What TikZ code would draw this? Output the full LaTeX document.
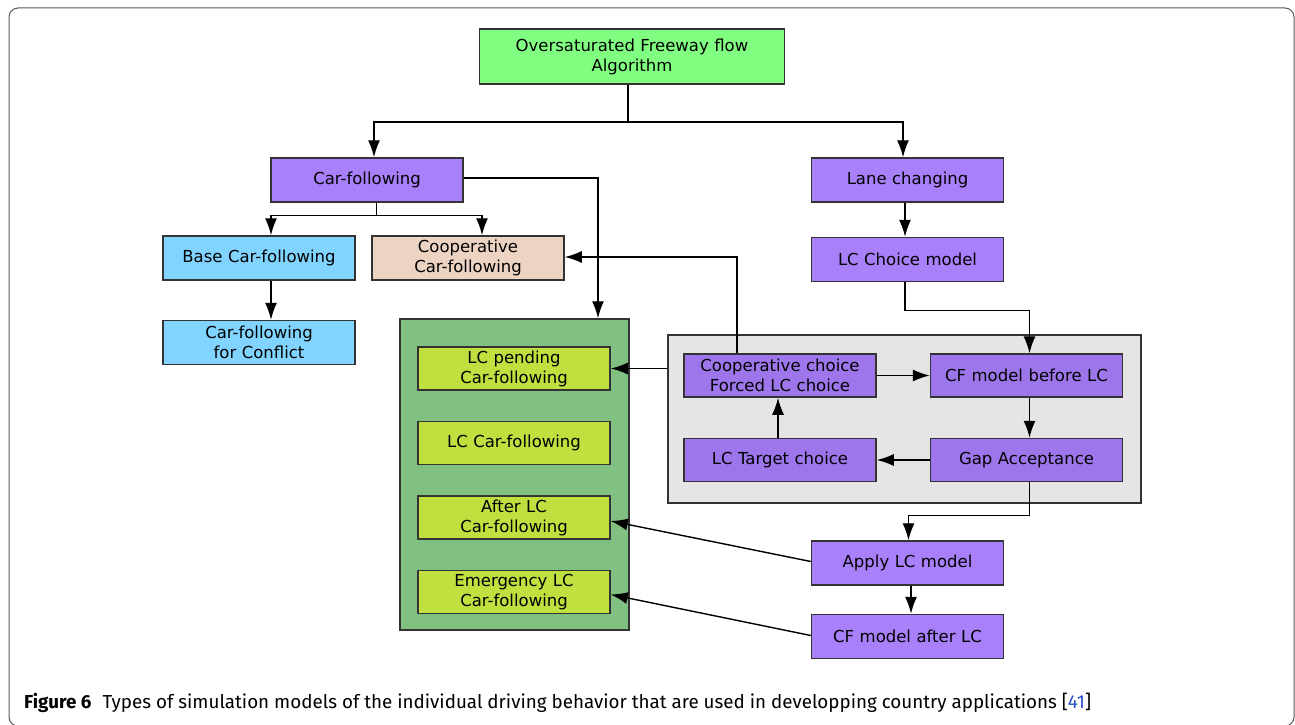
\documentclass[tikz,border=0pt]{standalone}
\usepackage{fontspec}
\setmainfont{DejaVu Sans}
\newfontfamily\capfont{Fira Sans}
\usetikzlibrary{arrows.meta,positioning}
\definecolor{algogreen}{RGB}{128,255,128}
\definecolor{cfpurple}{RGB}{168,128,250}
\definecolor{lcpurple}{RGB}{157,118,236}
\definecolor{baseblue}{RGB}{128,212,255}
\definecolor{coopbeige}{RGB}{236,211,194}
\definecolor{groupgreen}{RGB}{128,192,128}
\definecolor{cflime}{RGB}{192,224,64}
\definecolor{groupgray}{RGB}{229,229,229}
\definecolor{edgegray}{RGB}{51,51,51}
\definecolor{reflink}{RGB}{40,80,200}
\tikzset{
  frame/.style={
    rectangle, draw=edgegray, line width=1.5pt,
    text width=184pt, align=center, inner sep=0pt,
    minimum width=192pt, minimum height=44pt,
  },
  group/.style={
    rectangle, draw=edgegray, line width=1.5pt, inner sep=0pt,
  },
  line/.style={
    draw, -{Latex[length=17pt,width=12pt]}, line width=1.4pt,
  }
}

\begin{document}
\begin{tikzpicture}[x=1pt,y=-1pt,font=\fontsize{16.5}{20}\selectfont]
\useasboundingbox (0,0) rectangle (1295,725);
\draw[black!65, line width=1pt, rounded corners=9pt] (9,8) rectangle (1294,726);
% groups
\node[group, fill=groupgreen, minimum width=229pt, minimum height=311pt] (cfgroup) at (514.5,474.5) {};
\node[group, fill=groupgray, minimum width=473pt, minimum height=168pt] (lcgroup) at (904.5,419) {};
% top levels
\node[frame, fill=algogreen, minimum width=305pt, minimum height=55pt, text width=290pt] (algo) at (632,56.5) {Oversaturated Freeway flow\\Algorithm};
\node[frame, fill=cfpurple] (cf) at (367,180) {Car-following};
\node[frame, fill=cfpurple] (lanechg) at (907.5,180) {Lane changing};
% car-following side
\node[frame, fill=baseblue] (basecf) at (259,258) {Base Car-following};
\node[frame, fill=coopbeige] (coopcf) at (468,258) {Cooperative\\Car-following};
\node[frame, fill=baseblue, below=39pt of basecf] (conflict) {Car-following\\for Conflict};
\node[frame, fill=cflime, minimum height=43pt] (lcpend) at (514,368.5) {LC pending\\Car-following};
\node[frame, fill=cflime, minimum height=43pt, below=30pt of lcpend] (lccf) {LC Car-following};
\node[frame, fill=cflime, minimum height=43pt, below=30pt of lccf] (aftlc) {After LC\\Car-following};
\node[frame, fill=cflime, minimum height=43pt, below=30pt of aftlc] (emerg) {Emergency LC\\Car-following};
% lane changing side
\node[frame, fill=cfpurple, below=34pt of lanechg] (lcchoice) {LC Choice model};
\node[frame, fill=lcpurple, minimum height=43pt] (coopch) at (780,375.5) {Cooperative choice\\Forced LC choice};
\node[frame, fill=lcpurple, minimum height=43pt, right=53pt of coopch] (cfbefore) {CF model before LC};
\node[frame, fill=lcpurple, minimum height=43pt, below=40pt of coopch] (target) {LC Target choice};
\node[frame, fill=lcpurple, minimum height=43pt, below=40pt of cfbefore] (gap) {Gap Acceptance};
\node[frame, fill=cfpurple] (apply) at (907.5,563) {Apply LC model};
\node[frame, fill=cfpurple, below=28pt of apply] (cfafter) {CF model after LC};
% caption
\node[anchor=west, inner sep=0pt, font=\capfont\fontsize{18.8}{22}\selectfont] (caption) at (24,703)
  {\textbf{Figure 6}\hspace{0.6em}Types of simulation models of the individual driving behavior that are used in developping country applications [\textcolor{reflink}{41}]};

\coordinate (split) at (628,122);
\coordinate (cfsplit) at (376.5,215.5);
\draw[line width=1.4pt] (algo.south -| split) -- (split);
\path [line] (split) -| ([xshift=7pt]cf.north);
\path [line] (split) -| ([xshift=-4.5pt]lanechg.north);
\draw[line width=1.4pt] (cf.south -| cfsplit) -- (cfsplit);
\path [line] (cfsplit) -| ([xshift=12pt]basecf.north);
\path [line] (cfsplit) -| ([xshift=14pt]coopcf.north);
\path [line] ([xshift=12pt]basecf.south) -- ([xshift=12pt]conflict.north);
\path [line] ([yshift=2pt]cf.east) -| ([xshift=83.5pt]cfgroup.north);
\path [line] ([xshift=-2.5pt]lanechg.south) -- ([xshift=-2.5pt]lcchoice.north);
\path [line] ([xshift=-2.5pt]lcchoice.south) -- ++(0,28) -| ([xshift=3pt]cfbefore.north);
\path [line] (coopch) -- (cfbefore);
\path [line] ([xshift=3pt]cfbefore.south) -- ([xshift=3pt]gap.north);
\path [line] (gap) -- (target);
\path [line] ([xshift=-2pt]target.north) -- ([xshift=-2pt]coopch.south);
\path [line] ([xshift=-43pt]coopch.north) |- ([yshift=1pt]coopcf.east);
\path [line] (lcgroup.west |- lcpend.east) -- (lcpend.east);
\path [line] ([xshift=3pt]gap.south) -- ++(0,33) -| ([xshift=1pt]apply.north);
\path [line] ([xshift=3.5pt]apply.south) -- ([xshift=3.5pt]cfafter.north);
\path [line] ([yshift=1.5pt]apply.west) -- ([yshift=-3.5pt]aftlc.east);
\path [line] ([yshift=1pt]cfafter.west) -- ([yshift=-2.5pt]emerg.east);
\end{tikzpicture}
\end{document}
